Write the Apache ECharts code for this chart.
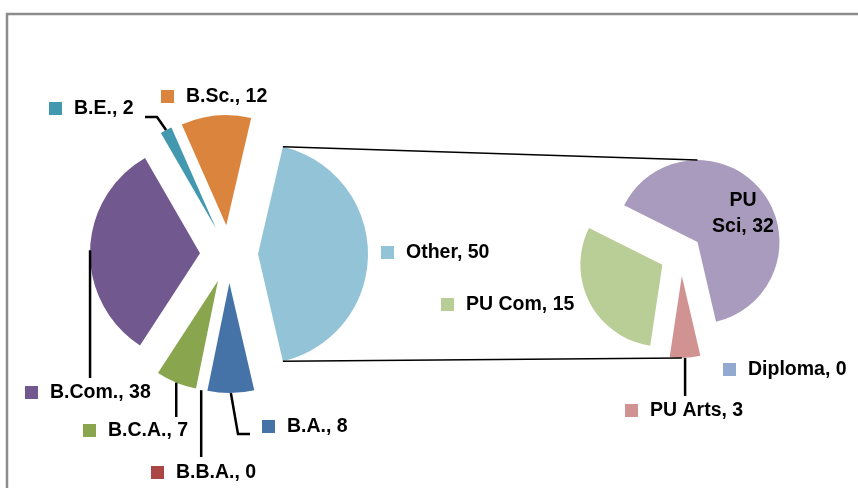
<!DOCTYPE html>
<html>
<head>
<meta charset="utf-8">
<script src="https://cdn.jsdelivr.net/npm/echarts@6/dist/echarts.min.js"></script>
<style>
  html, body { margin: 0; padding: 0; background: #fff; }
  #main { width: 858px; height: 488px; }
</style>
</head>
<body>
<div id="main"></div>
<script>
// data (main pie, then the "Other" split)
var mainNames = ['Other', 'B.A.', 'B.B.A.', 'B.C.A.', 'B.Com.', 'B.E.', 'B.Sc.'];
var mainValues = [50, 8, 0, 7, 38, 2, 12];
var subNames = ['Diploma', 'PU Arts', 'PU Com', 'PU Sci'];
var subValues = [0, 3, 15, 32];

// styles
var mainColors = ['#93c3d6', '#4572a7', '#aa4643', '#89a54e', '#71588f', '#4198af', '#db843d'];
var subColors = ['#93a9cf', '#d19392', '#b9cd96', '#a99bbd'];

var mainCenter = [229, 254], mainR = 110, mainOff = 29;
var subCenter = [681, 255], subR = 82, subOff = 21;
var font = 'bold 19.5px "Liberation Sans", Arial, sans-serif';

// where each label sits (key square left edge, vertical middle) and its leader path
var labelSpots = {
  'B.E.':    { x: 49,  y: 108.5, leader: [[157, 117], [145, 117]] },
  'B.Sc.':   { x: 161, y: 96.5 },
  'Other':   { x: 381, y: 252.5 },
  'B.A.':    { x: 262, y: 426.5, leader: [[238, 434], [250, 434]] },
  'B.B.A.':  { x: 151, y: 472.5, leader: [[null, 457]] },
  'B.C.A.':  { x: 83,  y: 430.5, leader: [[null, 417]] },
  'B.Com.':  { x: 25,  y: 392.5, leader: [[null, 378]] },
  'PU Com':  { x: 441, y: 304.5 },
  'Diploma': { x: 723, y: 369.5 },
  'PU Arts': { x: 625, y: 410.5, leader: [[null, 396]] },
  'PU Sci':  { cx: 743, cy: 214, inside: true }
};

function sum(a) { return a.reduce(function (s, v) { return s + v; }, 0); }

// angles measured clockwise from 12 o'clock, in degrees
function sliceAngles(values, startFromTop) {
  var total = sum(values), a = startFromTop, out = [];
  values.forEach(function (v) {
    var span = v / total * 360;
    out.push({ a0: a, a1: a + span, mid: a + span / 2 });
    a += span;
  });
  return out;
}
function pt(c, ang, r) {
  var t = ang * Math.PI / 180;
  return [c[0] + r * Math.sin(t), c[1] - r * Math.cos(t)];
}

var mainStart = mainValues[0] / sum(mainValues) * 180;   // "Other" centred on 3 o'clock
var subStart = -mainStart;
var mainAng = sliceAngles(mainValues, 90 - mainStart);
var subAng = sliceAngles(subValues, 90 - subStart);

var graphics = [{
  type: 'rect', shape: { x: 7, y: 14, width: 900, height: 600 },
  style: { fill: null, stroke: '#8c8c8c', lineWidth: 2.5 }, silent: true
}];

function addLabels(names, values, colors, ang, center, r, off) {
  names.forEach(function (n, i) {
    var spot = labelSpots[n];
    if (!spot) return;
    if (spot.inside) {
      graphics.push({
        type: 'text', x: spot.cx, y: spot.cy,
        style: { text: n.replace(' ', '\n') + ', ' + values[i], font: font, fill: '#000',
                 align: 'center', verticalAlign: 'middle', lineHeight: 26 }
      });
      return;
    }
    graphics.push({
      type: 'rect', shape: { x: spot.x, y: spot.y - 6.5, width: 13, height: 13 },
      style: { fill: colors[i] }
    });
    graphics.push({
      type: 'text', x: spot.x + 25, y: spot.y,
      style: { text: n + ', ' + values[i], font: font, fill: '#000', align: 'left', verticalAlign: 'middle' }
    });
    if (spot.leader) {
      var c = pt(center, ang[i].mid, off);
      var start = pt(c, ang[i].mid, r);
      var pts = [start].concat(spot.leader.map(function (p) {
        return [p[0] == null ? start[0] : p[0], p[1]];
      }));
      graphics.push({
        type: 'polyline', shape: { points: pts },
        style: { stroke: '#000', lineWidth: 2.5, fill: null }
      });
    }
  });
}
addLabels(mainNames, mainValues, mainColors, mainAng, mainCenter, mainR, mainOff);
addLabels(subNames, subValues, subColors, subAng, subCenter, subR, subOff);

// connector lines between "Other" and the second pie
function sliceAt(ang, deg) {
  for (var i = 0; i < ang.length; i++) {
    var a = deg;
    while (a < ang[i].a0) a += 360;
    if (a >= ang[i].a0 && a <= ang[i].a1 && ang[i].a1 > ang[i].a0) return ang[i];
  }
  return ang[0];
}
var otherC = pt(mainCenter, mainAng[0].mid, mainOff);
var topS = sliceAt(subAng, 0), botS = sliceAt(subAng, 180);
var topEnd = pt(pt(subCenter, topS.mid, subOff), 0, subR);
var botEnd = pt(pt(subCenter, botS.mid, subOff), 180, subR);
var topStart = pt(otherC, mainAng[0].a0, mainR);
var botStart = pt(otherC, mainAng[0].a1, mainR);
graphics.push({
  type: 'line', shape: { x1: topStart[0], y1: topStart[1], x2: topEnd[0], y2: topEnd[1] },
  style: { stroke: '#000', lineWidth: 1.5 }
});
graphics.push({
  type: 'line', shape: { x1: botStart[0], y1: botStart[1], x2: botEnd[0], y2: botEnd[1] },
  style: { stroke: '#000', lineWidth: 1.5 }
});
graphics.forEach(function (g) { g.z = 100; g.silent = true; });

function pieData(names, values, colors) {
  return names.map(function (n, i) {
    return { name: n, value: values[i], selected: true, itemStyle: { color: colors[i] } };
  });
}

var myChart = echarts.init(document.getElementById('main'));
var option = {
  animation: false,
  backgroundColor: '#fff',
  series: [
    {
      type: 'pie', center: mainCenter, radius: mainR, startAngle: mainStart, clockwise: true,
      selectedMode: 'multiple', selectedOffset: mainOff, avoidLabelOverlap: false,
      label: { show: false }, labelLine: { show: false }, emphasis: { disabled: true },
      itemStyle: { borderWidth: 0 },
      data: pieData(mainNames, mainValues, mainColors)
    },
    {
      type: 'pie', center: subCenter, radius: subR, startAngle: subStart, clockwise: true,
      selectedMode: 'multiple', selectedOffset: subOff, avoidLabelOverlap: false,
      label: { show: false }, labelLine: { show: false }, emphasis: { disabled: true },
      itemStyle: { borderWidth: 0 },
      data: pieData(subNames, subValues, subColors)
    }
  ],
  graphic: { elements: graphics }
};
option && myChart.setOption(option);
</script>
</body>
</html>
